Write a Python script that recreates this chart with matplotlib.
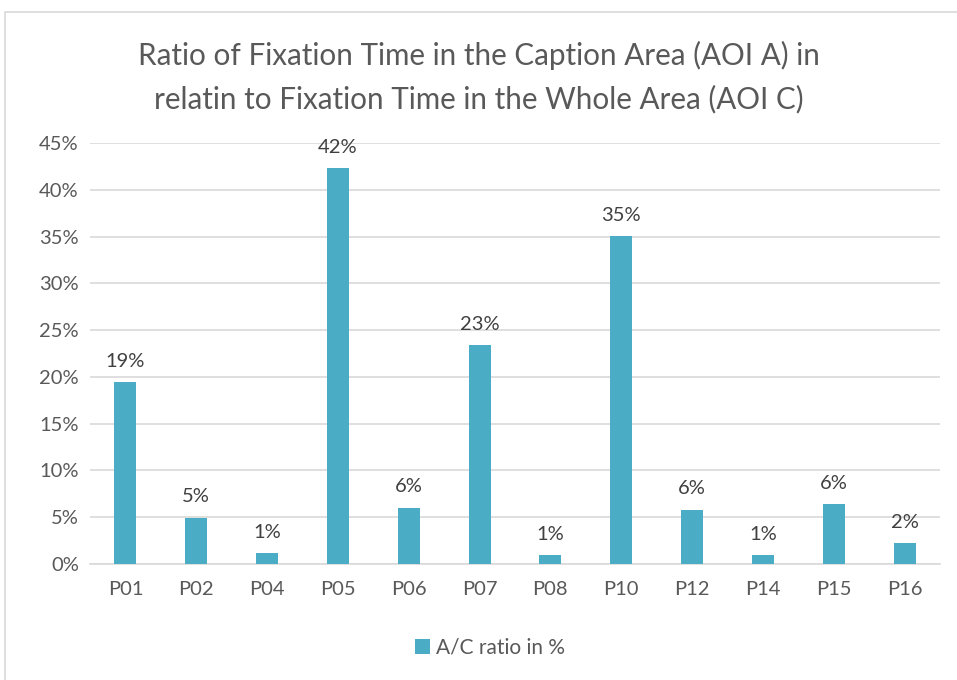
import matplotlib.pyplot as plt
from matplotlib.patches import Rectangle
from matplotlib.ticker import PercentFormatter

# values
participants = ['P01', 'P02', 'P04', 'P05', 'P06', 'P07', 'P08', 'P10', 'P12', 'P14', 'P15', 'P16']
ratio = [0.1945, 0.0495, 0.0117, 0.423, 0.060, 0.234, 0.0094, 0.3505, 0.058, 0.0096, 0.064, 0.022]
labels = ['19%', '5%', '1%', '42%', '6%', '23%', '1%', '35%', '6%', '1%', '6%', '2%']
yticks = [0, 0.05, 0.10, 0.15, 0.20, 0.25, 0.30, 0.35, 0.40, 0.45]

plt.rcParams['font.family'] = ['Lato', 'DejaVu Sans']
bar_color = '#4bacc6'
text_gray = '#595959'

fig = plt.figure(figsize=(9.57, 6.8), dpi=100)
# light chart frame like the spreadsheet export
fig.patches.append(Rectangle((5 / 957, -0.01), 1.0, 1 - 12 / 680 + 0.01,
                             transform=fig.transFigure, fill=False,
                             edgecolor='#d9d9d9', linewidth=1.2))

ax = fig.add_axes([90 / 957, 1 - 564 / 680, 850 / 957, 421 / 680])
x = range(len(participants))
bars = ax.bar(x, ratio, width=0.31, color=bar_color, zorder=3,
              label='A/C ratio in %')

for b, lab in zip(bars, labels):
    ax.annotate(lab, (b.get_x() + b.get_width() / 2, b.get_height()),
                xytext=(0, 9), textcoords='offset points',
                ha='center', va='bottom', fontsize=14.5, color='#404040')

ax.set_xlim(-0.5, len(participants) - 0.5)
ax.set_ylim(0, 0.45)
ax.set_yticks(yticks)
ax.yaxis.set_major_formatter(PercentFormatter(1.0, decimals=0))
ax.set_xticks(list(x))
ax.set_xticklabels(participants)
ax.grid(axis='y', color='#d9d9d9', linewidth=1.2, zorder=0)
for s in ['top', 'right', 'left']:
    ax.spines[s].set_visible(False)
ax.spines['bottom'].set_color('#d9d9d9')
ax.spines['bottom'].set_linewidth(1.2)
ax.tick_params(axis='both', length=0, labelsize=14.5, colors=text_gray, pad=12)
ax.tick_params(axis='y', pad=8)

fig.text(0.5, 1 - 77 / 680,
         'Ratio of Fixation Time in the Caption Area (AOI A) in\nrelatin to Fixation Time in the Whole Area (AOI C)',
         ha='center', va='center', fontsize=21.3, color=text_gray, linespacing=1.6)

fig.legend(handles=[bars], loc='center', bbox_to_anchor=(490 / 957, 1 - 648 / 680),
           frameon=False, fontsize=15, handlelength=0.7, handleheight=0.7,
           handletextpad=0.3, labelcolor=text_gray)

fig.savefig('out.png', dpi=100)
